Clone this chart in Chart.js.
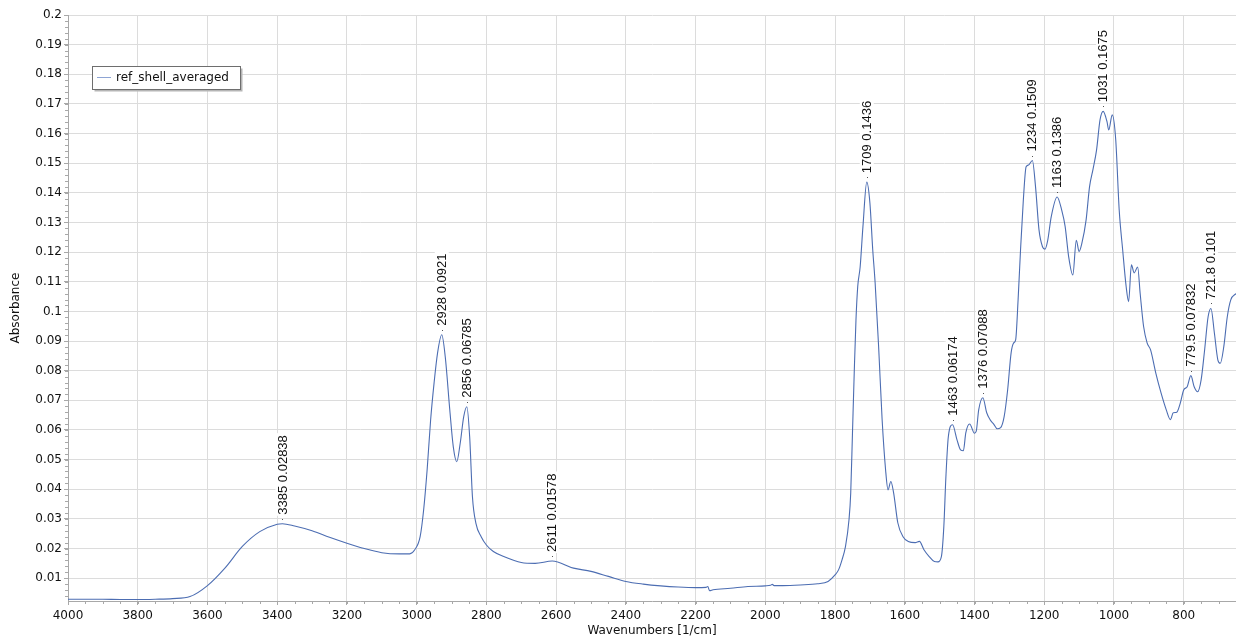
<!DOCTYPE html>
<html>
<head>
<meta charset="utf-8">
<script src="https://cdn.jsdelivr.net/npm/chart.js@4/dist/chart.umd.min.js"></script>
<style>
  html, body { margin: 0; padding: 0; background: #fff; }
  #wrap { width: 1236px; height: 641px; }
</style>
</head>
<body>
<div id="wrap"><canvas id="spectrum" width="1236" height="641"></canvas></div>
<script>
// spectrum, wavenumber (1/cm) vs absorbance
const wavenumbers = [
  4000, 3950, 3900, 3850, 3800, 3750, 3700, 3650, 3600, 3550, 3500, 3450, 3400, 3385, 3350, 3300,
  3250, 3200, 3150, 3100, 3050, 3020, 3006, 2990, 2980, 2970, 2960, 2950, 2940, 2928, 2918, 2905,
  2895, 2885, 2875, 2865, 2856, 2848, 2840, 2830, 2815, 2800, 2780, 2750, 2700, 2660, 2611, 2550,
  2500, 2450, 2400, 2350, 2300, 2250, 2200, 2170, 2165, 2160, 2150, 2100, 2050, 2000, 1985, 1980,
  1975, 1950, 1900, 1850, 1820, 1800, 1790, 1780, 1770, 1760, 1755, 1750, 1745, 1740, 1735, 1728,
  1720, 1709, 1700, 1692, 1685, 1675, 1665, 1655, 1648, 1640, 1632, 1620, 1605, 1590, 1570, 1558,
  1545, 1530, 1515, 1505, 1495, 1488, 1482, 1475, 1463, 1450, 1440, 1432, 1425, 1414, 1400, 1395,
  1388, 1376, 1365, 1355, 1345, 1335, 1325, 1315, 1305, 1295, 1288, 1282, 1275, 1268, 1260, 1252,
  1245, 1234, 1225, 1215, 1205, 1198, 1190, 1180, 1163, 1150, 1140, 1130, 1118, 1108, 1100, 1092,
  1080, 1070, 1060, 1050, 1040, 1031, 1020, 1015, 1005, 995, 985, 975, 965, 958, 950, 942,
  932, 925, 915, 905, 895, 880, 865, 850, 838, 830, 820, 810, 800, 790, 779.5, 770,
  760, 750, 740, 730, 721.8, 712, 702, 695, 685, 675, 665, 650
];
const absorbance = [
  0.0029, 0.0029, 0.0029, 0.0028, 0.0028, 0.0029, 0.0031, 0.0038, 0.0075, 0.0134, 0.0207, 0.0257, 0.0282, 0.02838, 0.0276, 0.0260,
  0.0238, 0.0218, 0.0200, 0.0186, 0.0182, 0.0182, 0.0195, 0.0240, 0.0330, 0.0465, 0.0633, 0.0759, 0.0860, 0.0921, 0.0847, 0.0668,
  0.0544, 0.0493, 0.0556, 0.0645, 0.06785, 0.0578, 0.0375, 0.0285, 0.0240, 0.0212, 0.0190, 0.0173, 0.0153, 0.0150, 0.01578, 0.0134,
  0.0123, 0.0106, 0.0089, 0.0080, 0.0074, 0.0070, 0.0068, 0.0069, 0.0072, 0.0058, 0.0061, 0.0066, 0.0072, 0.0074, 0.0076, 0.0079,
  0.0075, 0.0075, 0.0077, 0.0081, 0.0089, 0.0111, 0.0128, 0.0162, 0.0207, 0.0297, 0.0388, 0.0590, 0.0792, 0.0970, 0.1083, 0.1150,
  0.1286, 0.1436, 0.1366, 0.1210, 0.1096, 0.0881, 0.0635, 0.0465, 0.0398, 0.0426, 0.0388, 0.0287, 0.0240, 0.0224, 0.0220, 0.0224,
  0.0196, 0.0173, 0.0156, 0.0155, 0.0173, 0.0274, 0.0443, 0.0578, 0.06174, 0.0566, 0.0533, 0.0530, 0.0590, 0.0620, 0.0589, 0.0596,
  0.0668, 0.07088, 0.0658, 0.0634, 0.0620, 0.0604, 0.0608, 0.0645, 0.0735, 0.0860, 0.0893, 0.0904, 0.1039, 0.1207, 0.1375, 0.1488,
  0.1494, 0.1509, 0.1421, 0.1275, 0.1218, 0.1210, 0.1240, 0.1319, 0.1386, 0.1342, 0.1286, 0.1185, 0.1123, 0.1240, 0.1202, 0.1230,
  0.1308, 0.1421, 0.1480, 0.1544, 0.1646, 0.1675, 0.1640, 0.1612, 0.1663, 0.1580, 0.1342, 0.1207, 0.1083, 0.1033, 0.1157, 0.1130,
  0.1150, 0.1062, 0.0949, 0.0894, 0.0870, 0.0792, 0.0725, 0.0668, 0.0635, 0.0658, 0.0660, 0.0690, 0.0735, 0.0746, 0.07832, 0.0746,
  0.0729, 0.0769, 0.0870, 0.0982, 0.1010, 0.0927, 0.0836, 0.0825, 0.0881, 0.0982, 0.1039, 0.1060
];

// labelled peaks
const peakWavenumbers = ['3385', '2928', '2856', '2611', '1709', '1463', '1376', '1234', '1163', '1031', '779.5', '721.8'];
const peakValues = ['0.02838', '0.0921', '0.06785', '0.01578', '0.1436', '0.06174', '0.07088', '0.1509', '0.1386', '0.1675', '0.07832', '0.101'];

const seriesName = 'ref_shell_averaged';
const lineColor = '#4c6db2';
const gridColor = '#dcdcdc';
const axisColor = '#a8a8a8';

const points = wavenumbers.map((w, i) => ({ x: w, y: absorbance[i] }));

// minor ticks, peak labels and the boxed legend
const extras = {
  id: 'extras',
  afterDraw(chart) {
    const ctx = chart.ctx;
    const xs = chart.scales.x, ys = chart.scales.y;
    const area = chart.chartArea;
    ctx.save();

    // minor ticks
    ctx.strokeStyle = axisColor;
    ctx.lineWidth = 1;
    ctx.beginPath();
    for (let w = 700; w <= 4000; w += 50) {
      const px = Math.round(xs.getPixelForValue(w)) + 0.5;
      ctx.moveTo(px, area.bottom);
      ctx.lineTo(px, area.bottom + 3);
    }
    for (let k = 2; k <= 100; k++) {
      const v = k * 0.002;
      const py = Math.round(ys.getPixelForValue(v)) + 0.5;
      ctx.moveTo(area.left - 3, py);
      ctx.lineTo(area.left, py);
    }
    ctx.stroke();

    // peak labels
    ctx.font = "13px 'Liberation Sans', Arial, sans-serif";
    ctx.textBaseline = 'middle';
    ctx.textAlign = 'left';
    peakWavenumbers.forEach((w, i) => {
      const px = xs.getPixelForValue(+w);
      const py = ys.getPixelForValue(+peakValues[i]);
      const text = w + ' ' + peakValues[i];
      const tw = ctx.measureText(text).width;
      ctx.fillStyle = '#555';
      ctx.fillRect(Math.round(px), Math.round(py) - 5, 1, 1);
      ctx.save();
      ctx.translate(px, py - 9);
      ctx.rotate(-Math.PI / 2);
      ctx.fillStyle = '#fff';
      ctx.fillRect(-1, -7, tw + 3, 14);
      ctx.fillStyle = '#111';
      ctx.fillText(text, 0, 0.5);
      ctx.restore();
    });

    // legend box
    const lx = 92.5, ly = 66.5, lw = 148, lh = 23;
    ctx.fillStyle = '#b5b5b5';
    ctx.fillRect(lx + 2, ly + 2, lw, lh);
    ctx.fillStyle = '#fff';
    ctx.fillRect(lx, ly, lw, lh);
    ctx.strokeStyle = '#6e6e6e';
    ctx.strokeRect(lx, ly, lw, lh);
    ctx.strokeStyle = '#8ea4d4';
    ctx.beginPath();
    ctx.moveTo(97, 77.5);
    ctx.lineTo(111, 77.5);
    ctx.stroke();
    ctx.fillStyle = '#111';
    ctx.font = "12px 'DejaVu Sans', Verdana, sans-serif";
    ctx.textBaseline = 'middle';
    ctx.fillText(seriesName, 116, 78);

    ctx.restore();
  }
};

new Chart(document.getElementById('spectrum'), {
  type: 'line',
  data: {
    datasets: [{
      label: seriesName,
      data: points,
      borderColor: lineColor,
      borderWidth: 1.1,
      pointRadius: 0,
      fill: false,
      cubicInterpolationMode: 'monotone'
    }]
  },
  options: {
    responsive: false,
    animation: false,
    events: [],
    layout: { padding: { top: 15, right: 0, left: 0, bottom: 0 } },
    plugins: { legend: { display: false }, tooltip: { enabled: false } },
    scales: {
      x: {
        type: 'linear',
        reverse: true,
        min: 650,
        max: 4000,
        afterFit(s) { s.height = 40; },
        ticks: {
          stepSize: 200,
          includeBounds: false,
          autoSkip: false,
          maxRotation: 0,
          padding: 4,
          color: '#111',
          callback: v => String(Math.round(v)),
          font: { family: "'DejaVu Sans', Verdana, sans-serif", size: 12 }
        },
        grid: { color: gridColor, tickColor: axisColor, tickLength: 4 },
        border: { color: axisColor },
        title: {
          display: true,
          text: 'Wavenumbers [1/cm]',
          color: '#111',
          padding: { top: 0, bottom: 3 },
          font: { family: "'DejaVu Sans', Verdana, sans-serif", size: 12 }
        }
      },
      y: {
        min: 0.0023,
        max: 0.2,
        afterFit(s) { s.width = 68; },
        ticks: {
          stepSize: 0.01,
          includeBounds: false,
          autoSkip: false,
          padding: 2,
          color: '#111',
          callback: v => String(+v.toFixed(2)),
          font: { family: "'DejaVu Sans', Verdana, sans-serif", size: 12 }
        },
        grid: { color: gridColor, tickColor: axisColor, tickLength: 4 },
        border: { color: axisColor },
        title: {
          display: true,
          text: 'Absorbance',
          color: '#111',
          padding: { top: 9, bottom: 0 },
          font: { family: "'DejaVu Sans', Verdana, sans-serif", size: 12 }
        }
      }
    }
  },
  plugins: [extras]
});
</script>
</body>
</html>
